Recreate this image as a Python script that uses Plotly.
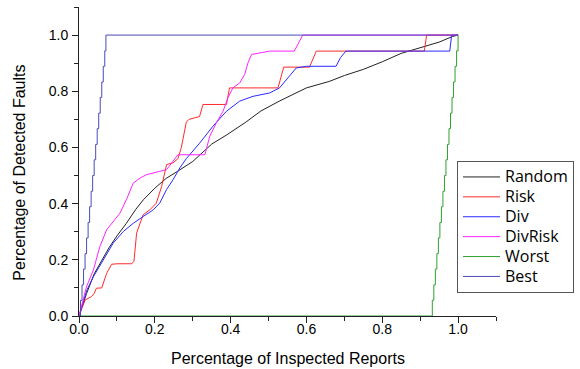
import plotly.graph_objects as go

# ---- data ----
random_x = [0, 0.01, 0.02, 0.04, 0.06, 0.08, 0.10, 0.125, 0.15, 0.17, 0.20, 0.23, 0.26, 0.28, 0.30,
            0.35, 0.39, 0.44, 0.48, 0.53, 0.60, 0.66, 0.70, 0.75, 0.80, 0.85, 0.90, 0.95, 0.985, 1.0]
random_y = [0, 0.04, 0.08, 0.15, 0.20, 0.245, 0.285, 0.33, 0.38, 0.414, 0.455, 0.49, 0.515, 0.533, 0.55,
            0.612, 0.645, 0.69, 0.73, 0.766, 0.812, 0.835, 0.856, 0.878, 0.905, 0.935, 0.955, 0.975, 0.995, 1.0]

risk_x = [0, 0.005, 0.016, 0.033, 0.04, 0.046, 0.06, 0.073, 0.086, 0.10, 0.139, 0.145, 0.152, 0.169, 0.187,
          0.204, 0.218, 0.231, 0.248, 0.261, 0.27, 0.283, 0.29, 0.318, 0.327, 0.389, 0.397, 0.525, 0.540,
          0.608, 0.626, 0.911, 0.917, 1.0]
risk_y = [0, 0.02, 0.057, 0.069, 0.08, 0.099, 0.10, 0.152, 0.184, 0.186, 0.186, 0.195, 0.295, 0.36, 0.378,
          0.402, 0.461, 0.539, 0.545, 0.56, 0.60, 0.69, 0.70, 0.71, 0.753, 0.753, 0.812, 0.812, 0.886,
          0.886, 0.943, 0.943, 1.0, 1.0]

div_x = [0, 0.02, 0.038, 0.064, 0.09, 0.117, 0.143, 0.169, 0.196, 0.213, 0.231, 0.248, 0.266, 0.283, 0.318,
         0.353, 0.389, 0.424, 0.459, 0.503, 0.529, 0.555, 0.573, 0.60, 0.678, 0.69, 0.704, 0.978, 0.983, 1.0]
div_y = [0, 0.09, 0.14, 0.2, 0.259, 0.301, 0.33, 0.354, 0.378, 0.402, 0.45, 0.485, 0.527, 0.56, 0.615,
         0.675, 0.729, 0.765, 0.782, 0.794, 0.812, 0.854, 0.883, 0.889, 0.889, 0.92, 0.943, 0.943, 1.0, 1.0]

divrisk_x = [0, 0.02, 0.038, 0.055, 0.073, 0.09, 0.108, 0.125, 0.143, 0.161, 0.178, 0.213, 0.231, 0.248, 0.261,
             0.332, 0.345, 0.362, 0.38, 0.393, 0.406, 0.424, 0.437, 0.446, 0.455, 0.503, 0.568, 0.59, 1.0]
divrisk_y = [0, 0.105, 0.164, 0.247, 0.307, 0.337, 0.366, 0.414, 0.473, 0.491, 0.503, 0.515, 0.521, 0.551, 0.574,
             0.574, 0.64, 0.687, 0.729, 0.777, 0.812, 0.83, 0.86, 0.902, 0.931, 0.943, 0.943, 1.0, 1.0]

worst_x = [0, 0.932, 0.936, 0.940, 0.944, 0.948, 0.952, 0.956, 0.960, 0.964, 0.968, 0.972, 0.976, 0.980,
           0.984, 0.988, 0.992, 0.996, 1.0]
worst_y = [0, 0.056, 0.111, 0.167, 0.222, 0.278, 0.333, 0.389, 0.444, 0.5, 0.556, 0.611, 0.667, 0.722,
           0.778, 0.833, 0.889, 0.944, 1.0]

best_x = [0.0, 0.004, 0.008, 0.012, 0.016, 0.020, 0.024, 0.028, 0.032, 0.036, 0.040, 0.044, 0.048, 0.052,
          0.056, 0.060, 0.064, 0.068, 0.071, 1.0]
best_y = [0, 0.056, 0.111, 0.167, 0.222, 0.278, 0.333, 0.389, 0.444, 0.5, 0.556, 0.611, 0.667, 0.722,
          0.778, 0.833, 0.889, 0.944, 1.0, 1.0]

series_names = ["Random", "Risk", "Div", "DivRisk", "Worst", "Best"]
series_x = [random_x, risk_x, div_x, divrisk_x, worst_x, best_x]
series_y = [random_y, risk_y, div_y, divrisk_y, worst_y, best_y]
series_colors = ["#222222", "#ff2a2a", "#2a2aff", "#ff22ff", "#2ea02e", "#4a4ab8"]
series_shapes = ["linear", "linear", "linear", "linear", "hv", "hv"]

fig = go.Figure()
for name, xs, ys, col, shape in zip(series_names, series_x, series_y, series_colors, series_shapes):
    fig.add_trace(go.Scatter(
        x=xs, y=ys, mode="lines",
        name="<span style='font-size:16px'>" + name + "</span>",
        line=dict(color=col, width=1, shape=shape)))

W, H = 580, 369
L, R, T, B = 79, 83, 7, 53

axis_common = dict(
    showgrid=False, zeroline=False, showline=True, linecolor="#222222", linewidth=1,
    ticks="outside", tickcolor="#222222", tickwidth=1, ticklen=6,
    range=[0, 1.1], dtick=0.2, tick0=0, tickformat=".1f",
    tickfont=dict(family="Liberation Sans, Arial", size=14, color="#000000"),
    minor=dict(dtick=0.1, tick0=0, ticks="outside", ticklen=4, tickcolor="#222222", showgrid=False),
    layer="below traces", mirror=False,
)

fig.update_layout(
    width=W, height=H,
    margin=dict(l=L, r=R, t=T, b=B, pad=0),
    paper_bgcolor="white", plot_bgcolor="white",
    xaxis=dict(**axis_common, ticklabelstandoff=-6),
    yaxis=dict(**axis_common, ticklabelstandoff=1),
    showlegend=True,
    legend=dict(x=(457 - L) / (W - L - R), y=(H - B - 161) / (H - B - T),
                xanchor="left", yanchor="top",
                bgcolor="white", bordercolor="#555555", borderwidth=1,
                font=dict(family="Open Sans", size=13, color="#000000"),
                tracegroupgap=0, itemwidth=37),
    annotations=[
        dict(text="Percentage of Inspected Reports", xref="paper", yref="paper",
             x=0.5, y=(H - B - 358) / (H - B - T), xanchor="center", yanchor="middle",
             showarrow=False, font=dict(family="Liberation Sans, Arial", size=16, color="#000000")),
        dict(text="Percentage of Detected Faults", xref="paper", yref="paper",
             x=(19 - L) / (W - L - R), y=(H - B - 172.5) / (H - B - T), xanchor="center", yanchor="middle",
             textangle=-90, showarrow=False,
             font=dict(family="Liberation Sans, Arial", size=16, color="#000000")),
    ],
)

fig.write_html("out.html")
